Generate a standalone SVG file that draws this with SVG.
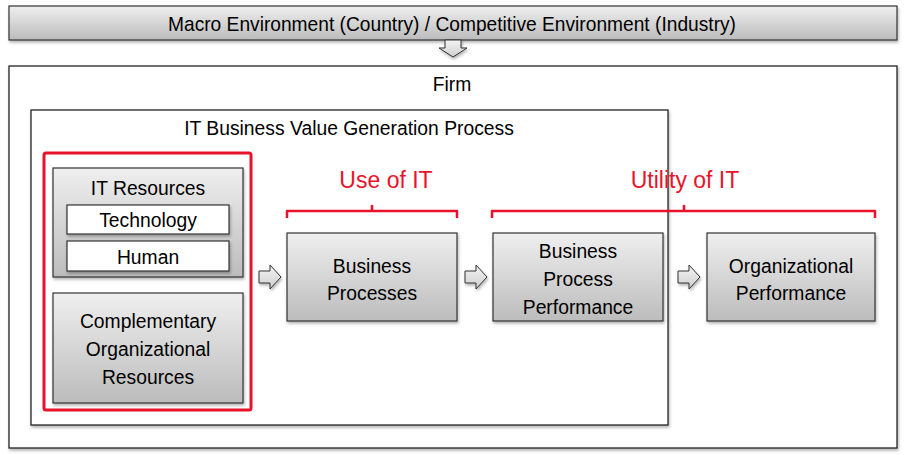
<svg xmlns="http://www.w3.org/2000/svg" width="905" height="455" viewBox="0 0 905 455">
<style>
.t{font-family:"Liberation Sans",Arial,sans-serif;font-size:21px;fill:#000;text-anchor:middle}
.r{fill:#e8132b;font-size:23px}
.box{fill:url(#g);stroke:#333;stroke-width:1.2;filter:url(#sh)}
.wbox{fill:#fff;stroke:#333;stroke-width:1.2;filter:url(#sh)}
.frame{fill:#fff;stroke:#222;stroke-width:1.3;filter:url(#sh)}
.arr{fill:url(#ga);stroke:#333;stroke-width:1;filter:url(#sh)}
.br{fill:none;stroke:#e8132b;stroke-width:2.5;stroke-linejoin:round}
</style>
<defs>
<linearGradient id="g" x1="0" y1="0" x2="0" y2="1">
<stop offset="0" stop-color="#efefef"/>
<stop offset="1" stop-color="#bcbcbc"/>
</linearGradient>
<linearGradient id="ga" x1="0" y1="0" x2="0" y2="1">
<stop offset="0" stop-color="#f4f4f4"/>
<stop offset="1" stop-color="#cfcfcf"/>
</linearGradient>
<filter id="sh" x="-10%" y="-10%" width="120%" height="130%">
<feDropShadow dx="1" dy="2" stdDeviation="1.5" flood-color="#000" flood-opacity="0.3"/>
</filter>
</defs>
<g id="macro">
<rect class="box" x="9" y="6" width="888" height="34"/>
<text class="t" x="452" y="31" textLength="568" lengthAdjust="spacingAndGlyphs">Macro Environment (Country) / Competitive Environment (Industry)</text>
</g>
<g id="firm">
<rect class="frame" x="9" y="66" width="888" height="382"/>
<text class="t" transform="translate(452,91) scale(0.92,1)">Firm</text>
</g>
<g id="process">
<rect class="frame" x="31" y="110" width="637" height="315"/>
<text class="t" transform="translate(349,135) scale(0.92,1)">IT Business Value Generation Process</text>
</g>
<g id="resources">
<rect x="44" y="153" width="207" height="257" rx="2" fill="none" stroke="#e8132b" stroke-width="3"/>
</g>
<g id="it-resources">
<rect class="box" x="53" y="168" width="190" height="109"/>
<text class="t" transform="translate(148,195) scale(0.92,1)">IT Resources</text>
</g>
<g id="technology">
<rect class="wbox" x="67" y="205" width="162" height="29"/>
<text class="t" transform="translate(148,227) scale(0.92,1)">Technology</text>
</g>
<g id="human">
<rect class="wbox" x="67" y="241" width="162" height="30"/>
<text class="t" transform="translate(148,264) scale(0.92,1)">Human</text>
</g>
<g id="complementary">
<rect class="box" x="53" y="293" width="190" height="110"/>
<text class="t" transform="translate(148,328) scale(0.92,1)">Complementary</text>
<text class="t" transform="translate(148,356) scale(0.92,1)">Organizational</text>
<text class="t" transform="translate(148,384) scale(0.92,1)">Resources</text>
</g>
<g id="business-processes">
<rect class="box" x="287" y="233" width="170" height="88"/>
<text class="t" transform="translate(372,273) scale(0.92,1)">Business</text>
<text class="t" transform="translate(372,300) scale(0.92,1)">Processes</text>
</g>
<g id="bpp">
<rect class="box" x="493" y="233" width="170" height="88"/>
<text class="t" transform="translate(578,258) scale(0.92,1)">Business</text>
<text class="t" transform="translate(578,286) scale(0.92,1)">Process</text>
<text class="t" transform="translate(578,314) scale(0.92,1)">Performance</text>
</g>
<g id="org-performance">
<rect class="box" x="707" y="233" width="168" height="88"/>
<text class="t" transform="translate(791,273) scale(0.92,1)">Organizational</text>
<text class="t" transform="translate(791,300) scale(0.92,1)">Performance</text>
</g>
<g id="labels">
<text class="t r" x="386" y="188">Use of IT</text>
<text class="t r" x="685" y="188">Utility of IT</text>
</g>
<g id="connectors">
<path class="arr" d="M445,40 H461 V48 H467 L453,57 L439,48 H445 Z"/>
<path class="arr" d="M259,271 H270 V265 L281,277 L270,289 V283 H259 Z"/>
<path class="arr" d="M465,271 H476 V265 L487,277 L476,289 V283 H465 Z"/>
<path class="arr" d="M678,271 H689 V265 L700,277 L689,289 V283 H678 Z"/>
<path class="br" d="M287,218 V211 H457 V218 M372,211 V205"/>
<path class="br" d="M492,218 V211 H875 V218 M684,211 V205"/>
</g>
</svg>
